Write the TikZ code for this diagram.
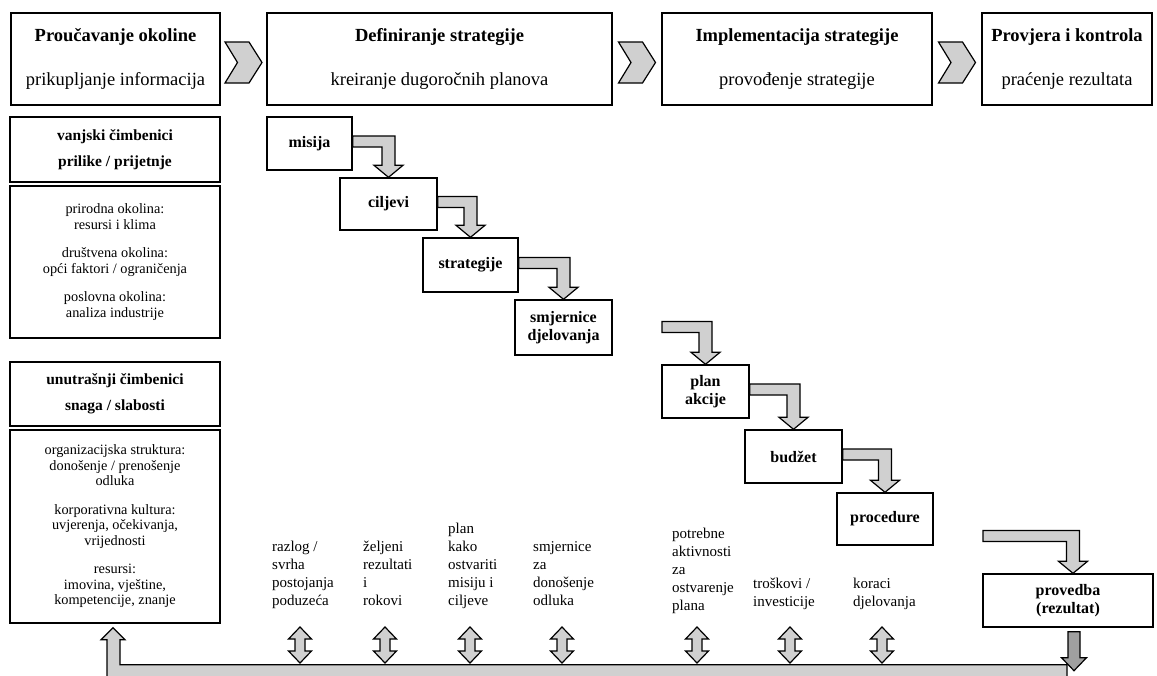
\documentclass[tikz,border=0pt]{standalone}
\usepackage{fontspec}
\setmainfont{Liberation Serif}
\usetikzlibrary{calc}
\definecolor{arrgray}{HTML}{D0D0D0}
\definecolor{darkarr}{HTML}{A0A0A0}
\newcommand{\bentarr}[2]{%
  \path[arr] let \p1=#1, \p2=#2 in
   (\x1,\y1+7.5pt) -- (\x2+6.5pt,\y1+7.5pt) -- (\x2+6.5pt,\y2+12pt) -- (\x2+14.5pt,\y2+12pt)
   -- (\x2,\y2) -- (\x2-14.5pt,\y2+12pt) -- (\x2-6.5pt,\y2+12pt) -- (\x2-6.5pt,\y1-3.5pt)
   -- (\x1,\y1-3.5pt) -- cycle;}
\newcommand{\chev}[2]{%
  \path[arr] let \p1=($#1!0.5!#2$) in
   (\x1-18.5pt,\y1+17pt) -- (\x1+5.5pt,\y1+17pt) -- (\x1+18.5pt,\y1-3.5pt)
   -- (\x1+5.5pt,\y1-24pt) -- (\x1-18.5pt,\y1-24pt) -- (\x1-6pt,\y1-3.5pt) -- cycle;}
\newcommand{\dblarr}[1]{%
  \path[arr] (#1,627) -- (#1+11.5,639) -- (#1+5,639) -- (#1+5,651) -- (#1+11.5,651)
   -- (#1,663) -- (#1-11.5,651) -- (#1-5,651) -- (#1-5,639) -- (#1-11.5,639) -- cycle;}
\begin{document}
\begin{tikzpicture}[x=1pt,y=-1pt,
  box/.style={draw=black, line width=1.4pt, inner sep=0pt, align=center, fill=white},
  hdr/.style={box, font=\fontsize{18.5}{21}\selectfont},
  sidehead/.style={box, font=\bfseries\fontsize{15.5}{18}\selectfont},
  sidebody/.style={box, font=\fontsize{14.3}{15.5}\selectfont},
  stepbox/.style={box, font=\bfseries\fontsize{16}{18}\selectfont},
  lbl/.style={inner sep=0pt, anchor=base west, font=\fontsize{15}{18}\selectfont},
  arr/.style={fill=arrgray, draw=black, line width=1.2pt, line join=miter},
]
\useasboundingbox (0,0) rectangle (1157,675);
\clip (0,0) rectangle (1157,675);

% header row
\node[hdr, minimum width=209, minimum height=92] (h1) at (115.5,59)
  {\textbf{Proučavanje okoline}\\[23pt]prikupljanje informacija};
\node[hdr, minimum width=345, minimum height=92] (h2) at (439.5,59)
  {\textbf{Definiranje strategije}\\[23pt]kreiranje dugoročnih planova};
\node[hdr, minimum width=270, minimum height=92] (h3) at (797,59)
  {\textbf{Implementacija strategije}\\[23pt]provođenje strategije};
\node[hdr, minimum width=170, minimum height=92] (h4) at (1067,59)
  {\textbf{Provjera i kontrola}\\[23pt]praćenje rezultata};
\chev{(h1.east)}{(h2.west)}
\chev{(h2.east)}{(h3.west)}
\chev{(h3.east)}{(h4.west)}

% left column
\node[sidehead, minimum width=210, minimum height=65] (s1) at (115,149.5)
  {vanjski čimbenici\\[8pt]prilike / prijetnje};
\node[sidebody, minimum width=210, minimum height=152] (s2) at (115,262)
  {prirodna okolina:\\resursi i klima\\[13pt]društvena okolina:\\opći faktori / ograničenja\\[13pt]poslovna okolina:\\analiza industrije};
\node[sidehead, minimum width=210, minimum height=64] (s3) at (115,394)
  {unutrašnji čimbenici\\[8pt]snaga / slabosti};
\node[sidebody, minimum width=210, minimum height=193] (s4) at (115,526.5)
  {organizacijska struktura:\\donošenje / prenošenje\\odluka\\[13pt]korporativna kultura:\\uvjerenja, očekivanja,\\vrijednosti\\[13pt]resursi:\\imovina, vještine,\\kompetencije, znanje};

% strategy cascade
\node[stepbox, minimum width=85, minimum height=53] (misija) at (309.5,143.5) {misija};
\node[stepbox, minimum width=97, minimum height=52] (ciljevi) at (388.5,204) {ciljevi};
\node[stepbox, minimum width=95, minimum height=54] (strat) at (470.5,265) {strategije};
\node[stepbox, minimum width=97, minimum height=55] (smj) at (563.5,327.5) {smjernice\\djelovanja};
\bentarr{(misija.east)}{(ciljevi.north)}
\bentarr{(ciljevi.east)}{(strat.north)}
\bentarr{(strat.east)}{(smj.north)}

% implementation cascade
\node[stepbox, minimum width=87, minimum height=53] (plan) at (705.5,391.5) {plan\\akcije};
\node[stepbox, minimum width=97, minimum height=53] (budzet) at (793.5,456.5) {budžet};
\node[stepbox, minimum width=96, minimum height=52] (proc) at (885,519) {procedure};
\node[stepbox, minimum width=170, minimum height=53] (provedba) at (1068,600.5) {provedba\\(rezultat)};
\coordinate (freeA) at (662,329);
\coordinate (freeB) at (983,538);
\bentarr{(freeA)}{(plan.north)}
\bentarr{(plan.east)}{(budzet.north)}
\bentarr{(budzet.east)}{(proc.north)}
\bentarr{(freeB)}{($(provedba.north)+(5,0)$)}

% bottom labels
\node[lbl] (l1) at (272,551.5) {\begin{tabular}[t]{@{}l@{}}razlog /\\svrha\\postojanja\\poduzeća\end{tabular}};
\node[lbl] (l2) at (363,551.5) {\begin{tabular}[t]{@{}l@{}}željeni\\rezultati\\i\\rokovi\end{tabular}};
\node[lbl] (l3) at (448,533.5) {\begin{tabular}[t]{@{}l@{}}plan\\kako\\ostvariti\\misiju i\\ciljeve\end{tabular}};
\node[lbl] (l4) at (533,551.5) {\begin{tabular}[t]{@{}l@{}}smjernice\\za\\donošenje\\odluka\end{tabular}};
\node[lbl] (l5) at (672,538.5) {\begin{tabular}[t]{@{}l@{}}potrebne\\aktivnosti\\za\\ostvarenje\\plana\end{tabular}};
\node[lbl] (l6) at (753,588.5) {\begin{tabular}[t]{@{}l@{}}troškovi /\\investicije\end{tabular}};
\node[lbl] (l7) at (853,588.5) {\begin{tabular}[t]{@{}l@{}}koraci\\djelovanja\end{tabular}};

% double arrows
\dblarr{300}
\dblarr{385}
\dblarr{470}
\dblarr{562}
\dblarr{697}
\dblarr{790}
\dblarr{882}

% bottom feedback band with arrow up into s4
\path[arr] let \p1=(s4.south), \p2=(provedba.south) in
  (\x1-2pt,\y1-4pt) -- (\x1+10pt,\y1-16pt) -- (\x1+5pt,\y1-16pt) -- (\x1+5pt,\y1-41pt)
  -- (\x2-1pt,\y1-41pt) -- (\x2-1pt,\y1-70pt) -- (\x1-8pt,\y1-70pt) -- (\x1-8pt,\y1-16pt)
  -- (\x1-14pt,\y1-16pt) -- cycle;

% down arrow from provedba
\path[arr, fill=darkarr] let \p1=($(provedba.south)+(6,0)$) in
  (\x1-6pt,\y1-4pt) -- (\x1+6pt,\y1-4pt) -- (\x1+6pt,\y1-30pt) -- (\x1+12.5pt,\y1-30pt)
  -- (\x1,\y1-43pt) -- (\x1-12.5pt,\y1-30pt) -- (\x1-6pt,\y1-30pt) -- cycle;
\end{tikzpicture}
\end{document}
